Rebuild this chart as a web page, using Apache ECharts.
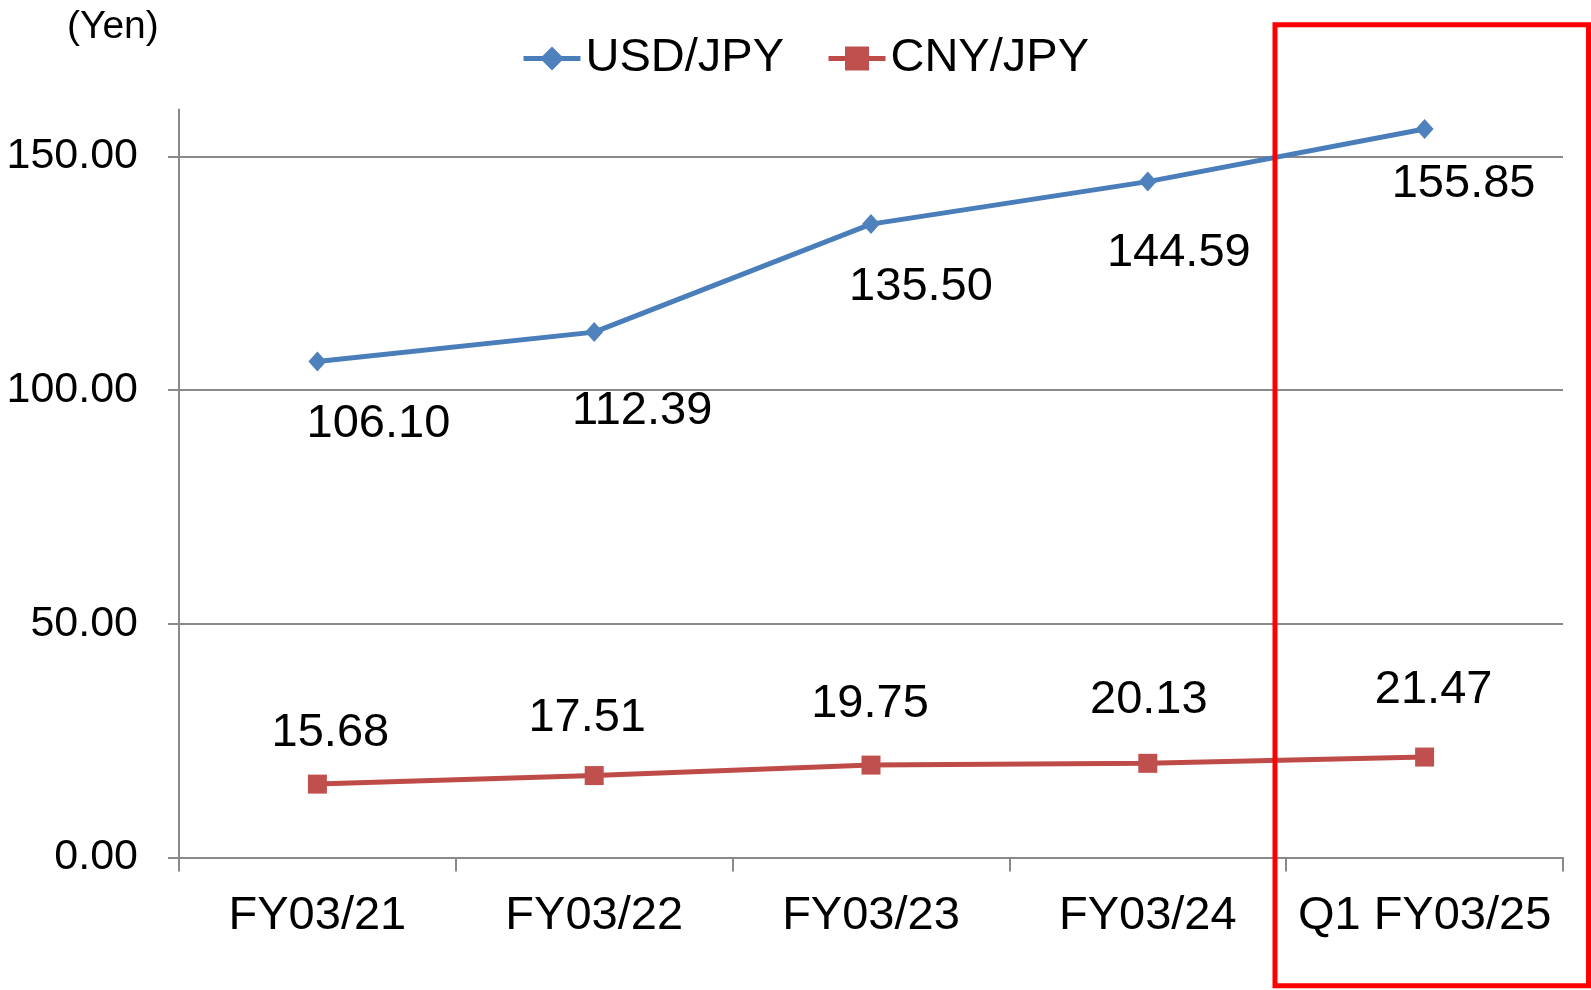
<!DOCTYPE html>
<html>
<head>
<meta charset="utf-8">
<title>USD/JPY and CNY/JPY</title>
<script src="https://cdn.jsdelivr.net/npm/echarts@6/dist/echarts.min.js"></script>
<style>
  html, body { margin: 0; padding: 0; background: #fff; }
  #chart { width: 1591px; height: 990px; }
</style>
</head>
<body>
<div id="chart"></div>
<script>
const categories = ['FY03/21', 'FY03/22', 'FY03/23', 'FY03/24', 'Q1 FY03/25'];
const usdJpy = [106.10, 112.39, 135.50, 144.59, 155.85];
const cnyJpy = [15.68, 17.51, 19.75, 20.13, 21.47];
const yTicks = [0, 50, 100, 150];

// label offsets from each point (labels were moved by hand in the original)
const usdLabelShift = [[61, 63], [48, 79], [50, 63], [31, 71], [39, 55]];
const cnyLabelShift = [[13, -51], [-7, -58], [-1, -61], [1, -63], [9, -67]];

const FONT = '"Liberation Sans", Arial, sans-serif';
const GRAY = '#898989';

const withLabels = (values, shifts) => values.map((v, i) => ({
  value: v,
  label: { offset: shifts[i] },
}));

const chart = echarts.init(document.getElementById('chart'));

const options = {
  backgroundColor: '#fff',
  textStyle: { fontFamily: FONT, color: '#000' },
  title: {
    text: '(Yen)',
    left: 67,
    top: 8,
    padding: 0,
    textStyle: { fontFamily: FONT, fontSize: 39, fontWeight: 'normal', color: '#000' },
  },
  legend: {
    left: 521,
    top: 35,
    padding: 0,
    itemWidth: 57,
    itemHeight: 30,
    itemGap: 42,
    lineStyle: { width: 5 },
    textStyle: { fontFamily: FONT, fontSize: 47, color: '#000' },
    data: ['USD/JPY', 'CNY/JPY'],
  },
  grid: {
    left: 179,
    right: 28,
    top: 109.6,
    bottom: 132.6,
    containLabel: false,
  },
  xAxis: {
    type: 'category',
    data: categories,
    boundaryGap: true,
    axisLine: { lineStyle: { color: GRAY, width: 2 } },
    axisTick: { show: true, length: 14, lineStyle: { color: GRAY, width: 2 } },
    axisLabel: { fontFamily: FONT, fontSize: 47, color: '#000', margin: 35, interval: 0 },
  },
  yAxis: {
    type: 'value',
    min: 0,
    max: 160,
    interval: 50,
    axisLine: { show: true, lineStyle: { color: GRAY, width: 2 } },
    axisTick: { show: true, length: 11, customValues: yTicks, lineStyle: { color: GRAY, width: 2 } },
    axisLabel: {
      fontFamily: FONT,
      fontSize: 43,
      color: '#000',
      margin: 41,
      customValues: yTicks,
      formatter: v => v.toFixed(2),
    },
    splitLine: { show: true, lineStyle: { color: GRAY, width: 2 } },
  },
  series: [
    {
      name: 'USD/JPY',
      type: 'line',
      data: withLabels(usdJpy, usdLabelShift),
      symbol: 'diamond',
      symbolSize: [18, 20],
      color: '#4A7EBB',
      lineStyle: { color: '#4A7EBB', width: 5 },
      itemStyle: { color: '#4F81BD' },
      label: {
        show: true,
        position: 'inside',
        fontFamily: FONT,
        fontSize: 47,
        color: '#000',
        formatter: p => p.value.toFixed(2),
      },
      z: 3,
    },
    {
      name: 'CNY/JPY',
      type: 'line',
      data: withLabels(cnyJpy, cnyLabelShift),
      symbol: 'rect',
      symbolSize: 19,
      color: '#BE4B48',
      lineStyle: { color: '#BE4B48', width: 5 },
      itemStyle: { color: '#C0504D' },
      label: {
        show: true,
        position: 'inside',
        fontFamily: FONT,
        fontSize: 47,
        color: '#000',
        formatter: p => p.value.toFixed(2),
      },
      z: 3,
    },
  ],
  graphic: [
    {
      type: 'rect',
      z: 100,
      shape: { x: 1275, y: 24.7, width: 313.5, height: 961 },
      style: { fill: 'none', stroke: '#FF0000', lineWidth: 5 },
    },
  ],
};

chart.setOption(options);
</script>
</body>
</html>
